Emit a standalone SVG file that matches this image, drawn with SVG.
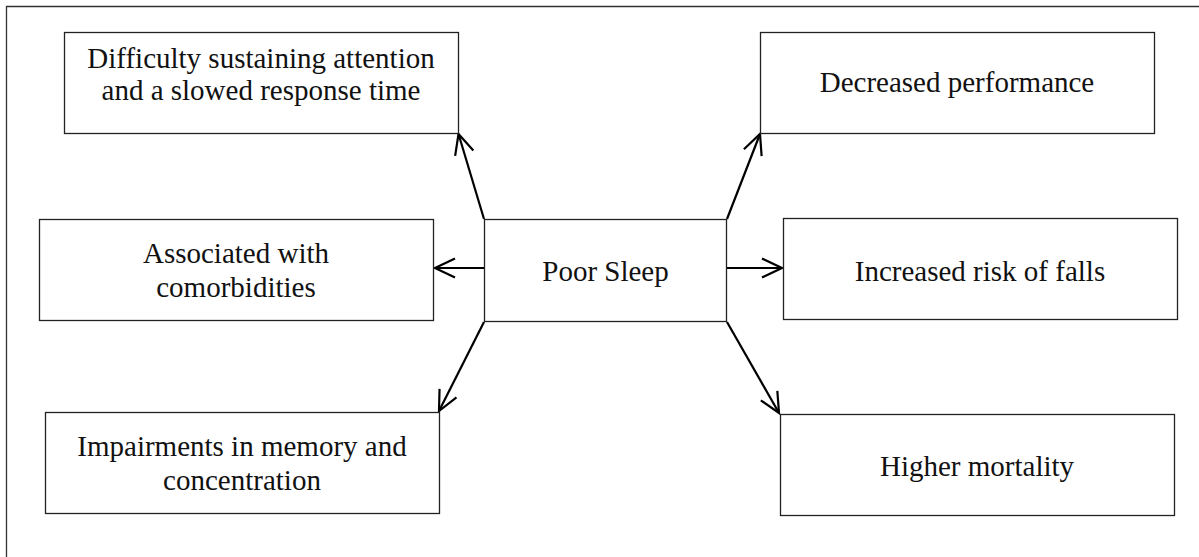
<svg xmlns="http://www.w3.org/2000/svg" width="1199" height="557" viewBox="0 0 1199 557">
<style>
.box{fill:#fff;stroke:#222;stroke-width:1.3}
.t{font-family:"Liberation Serif","Times New Roman",serif;font-size:29px;fill:#111;text-anchor:middle}
.c{stroke:#000;stroke-width:2.2;fill:none;marker-end:url(#ah)}
</style>
<defs>
<marker id="ah" markerUnits="userSpaceOnUse" markerWidth="40" markerHeight="40" refX="0" refY="0" orient="auto" overflow="visible">
<path d="M-20,-9.5 L0,0 L-20,9.5" fill="none" stroke="#000" stroke-width="2.2"/>
</marker>
</defs>
<rect x="0" y="0" width="1199" height="557" fill="#fff"/>
<path d="M6.5,557 V6.5 H1199" fill="none" stroke="#333" stroke-width="1.3"/>
<g id="connectors">
<line class="c" x1="484" y1="219" x2="458.5" y2="134"/>
<line class="c" x1="727" y1="219" x2="760" y2="134"/>
<line class="c" x1="484" y1="268" x2="435" y2="268"/>
<line class="c" x1="727" y1="268" x2="782" y2="268"/>
<line class="c" x1="484" y1="322" x2="439" y2="411"/>
<line class="c" x1="727" y1="322" x2="779" y2="413"/>
</g>
<g id="poor-sleep">
<rect class="box" x="484.5" y="219.5" width="242" height="102"/>
<text class="t" x="605.5" y="281">Poor Sleep</text>
</g>
<g id="difficulty">
<rect class="box" x="64.5" y="32.5" width="394" height="101"/>
<text class="t" x="261" y="68">Difficulty sustaining attention</text>
<text class="t" x="261" y="100">and a slowed response time</text>
</g>
<g id="decreased">
<rect class="box" x="760.5" y="32.5" width="394" height="101"/>
<text class="t" x="957" y="92">Decreased performance</text>
</g>
<g id="associated">
<rect class="box" x="39.5" y="219.5" width="394" height="101"/>
<text class="t" x="236" y="263">Associated with</text>
<text class="t" x="236" y="297">comorbidities</text>
</g>
<g id="increased">
<rect class="box" x="783.5" y="218.5" width="394" height="101"/>
<text class="t" x="980" y="281">Increased risk of falls</text>
</g>
<g id="impairments">
<rect class="box" x="45.5" y="412.5" width="394" height="101"/>
<text class="t" x="242" y="456">Impairments in memory and</text>
<text class="t" x="242" y="490">concentration</text>
</g>
<g id="higher">
<rect class="box" x="780.5" y="414.5" width="394" height="101"/>
<text class="t" x="977" y="476">Higher mortality</text>
</g>
</svg>
